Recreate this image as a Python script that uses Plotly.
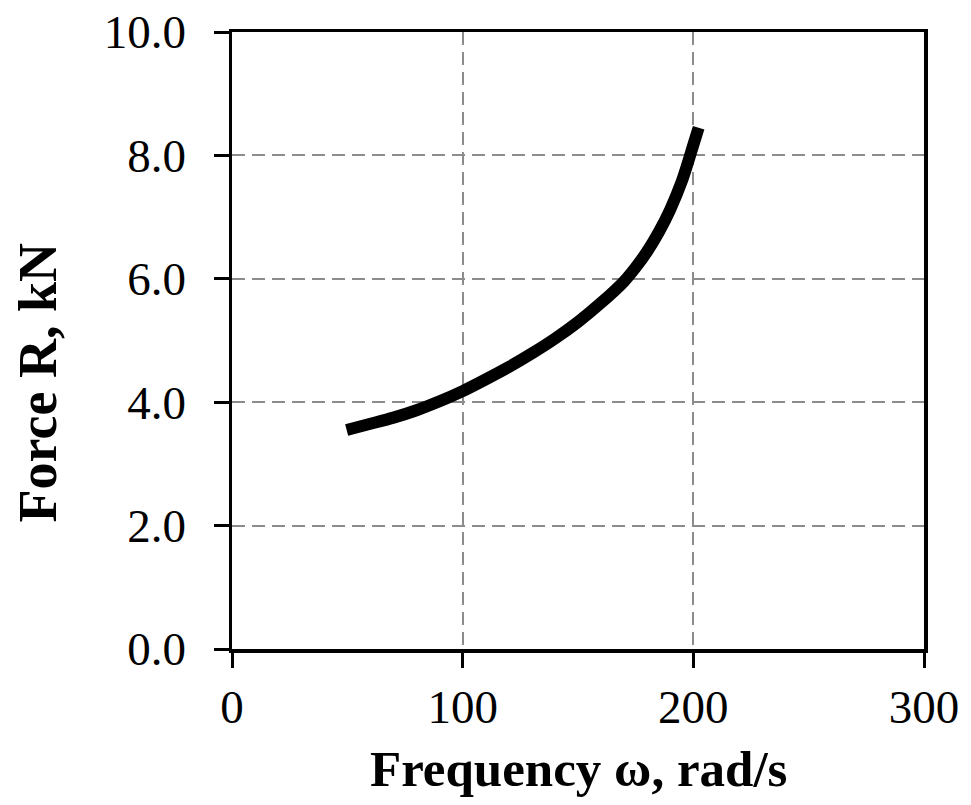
import plotly.graph_objects as go

# Data
omega = [49.7, 60, 70, 80, 90, 100, 110, 120, 130, 140, 150, 160, 170, 175, 180, 185, 190, 195, 200, 202.3]
force = [3.55, 3.65, 3.75, 3.87, 4.015, 4.18, 4.37, 4.57, 4.79, 5.03, 5.30, 5.61, 5.96, 6.185,
         6.445, 6.755, 7.125, 7.58, 8.17, 8.45]

x_ticks = [0, 100, 200, 300]
y_ticks = [0, 2, 4, 6, 8, 10]
x_title = "Frequency ω, rad/s"
y_title = "Force R, kN"

FONT = "Liberation Serif, Times New Roman, serif"

fig = go.Figure()
fig.add_trace(go.Scatter(
    x=omega, y=force, mode="lines",
    line=dict(color="black", width=12, shape="spline", smoothing=0.8),
    showlegend=False, hoverinfo="skip",
))

common = dict(
    showline=True, linecolor="black", linewidth=3.5, mirror=True,
    ticks="outside", ticklen=15, tickwidth=3, tickcolor="black",
    showgrid=True, gridcolor="#8c8c8c", gridwidth=2, griddash="13px,7px",
    zeroline=False, automargin=False, ticklabeloverflow="allow",
    tickfont=dict(family=FONT, size=47, color="black"),
)

fig.update_xaxes(range=[0, 300], tickvals=x_ticks, ticktext=[str(v) for v in x_ticks],
                 ticklabelstandoff=-1, **common)
fig.update_yaxes(range=[0, 10], tickvals=y_ticks, ticktext=[f"{v:.1f}" for v in y_ticks],
                 ticklabelstandoff=18, **common)

fig.update_layout(
    width=971, height=805,
    margin=dict(l=232, r=47, t=32, b=156),
    paper_bgcolor="white", plot_bgcolor="white",
    hovermode=False,
    annotations=[
        dict(text=f"<b>{x_title}</b>", xref="paper", yref="paper",
             x=0.5, y=-0.1945, yanchor="middle", xanchor="center", showarrow=False,
             font=dict(family=FONT, size=51, color="black")),
        dict(text=f"<b>{y_title}</b>", xref="paper", yref="paper",
             x=-0.279, y=0.432, xanchor="center", yanchor="middle", textangle=-90,
             showarrow=False, font=dict(family=FONT, size=54, color="black")),
    ],
)

fig.write_html("out.html",
               config={"displayModeBar": False, "staticPlot": True},
               post_script="document.body.style.margin='0';document.body.style.padding='0';")
